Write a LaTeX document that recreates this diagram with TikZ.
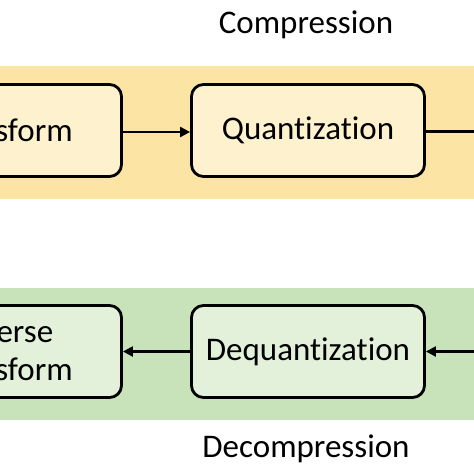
\documentclass[tikz,border=0pt]{standalone}
\usepackage{fontspec}
\setmainfont[Ligatures=NoCommon]{Carlito}
\usetikzlibrary{arrows.meta}
\definecolor{bandgold}{HTML}{FCE5A4}
\definecolor{boxgold}{HTML}{FEF2CE}
\definecolor{bandgreen}{HTML}{C8E2B9}
\definecolor{boxgreen}{HTML}{E3F0DA}
\newcommand{\stageband}[2]% top, bottom
{(-20,#1) rectangle (494,#2)
}

\begin{document}
\begin{tikzpicture}[x=1pt,y=-1pt,
	stagebox/.style={draw, line width=2.8pt, rounded corners=12pt, minimum width=233pt, minimum height=92pt, align=center, font=\fontsize{33}{38}\selectfont},
	flow/.style={line width=2.2pt, -{Triangle[length=10pt,width=10pt]}}]
		\useasboundingbox (0,0) rectangle (474,474);
		\clip (0,0) rectangle (474,474);
		%bandas de fondo
		\fill[bandgold]\stageband{66}{199};
		\fill[bandgreen]\stageband{288}{420};
		%compresion
		\node[font=\fontsize{33}{38}\selectfont] (comp) at (306,25) {Compression};
		\node[stagebox, fill=boxgold] (trans) at (5,130.5) {Transform};
		\node[stagebox, fill=boxgold] (quant) at (308,130.5) {Quantization};
		\coordinate (enc) at (490,131.5);
		\draw[flow] (trans.east |- 0,132) -- (quant.west |- 0,132);
		\draw[line width=2.2pt] (quant.east |- enc) -- (enc);
		%descompresion
		\node[stagebox, fill=boxgreen] (itrans) at (5,351.5) {Inverse\\Transform};
		\node[stagebox, fill=boxgreen] (dequant) at (308,351.5) {Dequantization};
		\coordinate (dec) at (490,351.5);
		\draw[flow] (dec) -- (dequant);
		\draw[flow] (dequant) -- (itrans);
		\node[font=\fontsize{33}{38}\selectfont] (decomp) at (306,449) {Decompression};
	\end{tikzpicture}
\end{document}
